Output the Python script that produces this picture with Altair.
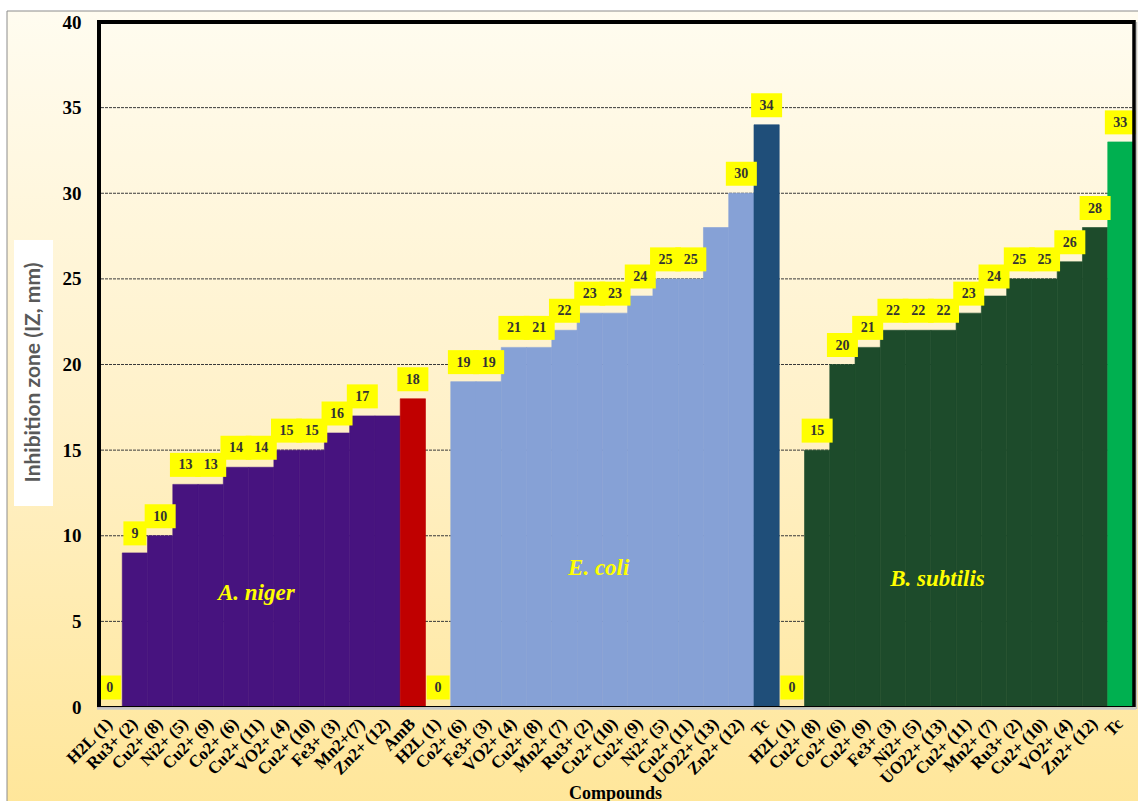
import altair as alt
import pandas as pd

# ---------------- data ----------------
niger_labels = ["H2L (1)", "Ru3+ (2)", "Cu2+ (8)", "Ni2+ (5)", "Cu2+ (9)", "Co2+ (6)",
                "Cu2+ (11)", "VO2+ (4)", "Cu2+ (10)", "Fe3+ (3)", "Mn2+(7)", "Zn2+ (12)", "AmB"]
niger_values = [0, 9, 10, 13, 13, 14, 14, 15, 15, 16, 17, 17, 18]
niger_shown = [1, 1, 1, 1, 1, 1, 1, 1, 1, 1, 1, 0, 1]

coli_labels = ["H2L (1)", "Co2+ (6)", "Fe3+ (3)", "VO2+ (4)", "Cu2+ (8)", "Mn2+ (7)", "Ru3+ (2)",
               "Cu2+ (10)", "Cu2+ (9)", "Ni2+ (5)", "Cu2+ (11)", "UO22+ (13)", "Zn2+ (12)", "Tc"]
coli_values = [0, 19, 19, 21, 21, 22, 23, 23, 24, 25, 25, 28, 30, 34]
coli_shown = [1, 1, 1, 1, 1, 1, 1, 1, 1, 1, 1, 0, 1, 1]

subtilis_labels = ["H2L (1)", "Cu2+ (8)", "Co2+ (6)", "Cu2+ (9)", "Fe3+ (3)", "Ni2+ (5)", "UO22+ (13)",
                   "Cu2+ (11)", "Mn2+ (7)", "Ru3+ (2)", "Cu2+ (10)", "VO2+ (4)", "Zn2+ (12)", "Tc"]
subtilis_values = [0, 15, 20, 21, 22, 22, 22, 23, 24, 25, 25, 26, 28, 33]
subtilis_shown = [1] * 14

group_names = ["A. niger", "E. coli", "B. subtilis"]
group_text_y = [6.65, 8.1, 7.5]
group_text_bar = [6, 6, 6]          # bar (within group) under which the name sits
group_text_dx = [-5, 9, -6]

kind_domain = ["niger", "AmB", "coli", "Tc_coli", "subtilis", "Tc_subtilis"]
kind_colors = ["#47137F", "#C00000", "#86A1D6", "#1F4E79", "#1D4B2B", "#00B050"]

grid_values = [5, 10, 15, 20, 25, 30, 35]

# ---------------- build table ----------------
rows = []
keys_by_group = []
groups = [
    (niger_labels, niger_values, niger_shown, "niger", "AmB"),
    (coli_labels, coli_values, coli_shown, "coli", "Tc_coli"),
    (subtilis_labels, subtilis_values, subtilis_shown, "subtilis", "Tc_subtilis"),
]
idx = 0
for labels, values, shown, kind, ref_kind in groups:
    gkeys = []
    for i, (lab, val, sh) in enumerate(zip(labels, values, shown)):
        key = f"{idx:02d}|{lab}"
        gkeys.append(key)
        rows.append({
            "key": key,
            "value": val,
            "shown": sh,
            "kind": ref_kind if i == len(labels) - 1 else kind,
            "txt": str(val),
        })
        idx += 1
    keys_by_group.append(gkeys)
df = pd.DataFrame(rows)
domain_keys = list(df["key"])

gdf = pd.DataFrame({
    "key": [keys_by_group[g][group_text_bar[g]] for g in range(3)],
    "y": group_text_y,
    "name": group_names,
    "dx": group_text_dx,
})

W, H = 1036, 685

xscale = alt.Scale(domain=domain_keys, paddingInner=0, paddingOuter=0)
yscale = alt.Scale(domain=[0, 40], nice=False)

x_enc = alt.X(
    "key:N", scale=xscale, sort=None,
    axis=alt.Axis(
        title="Compounds", labelExpr="split(datum.label, '|')[1]",
        labelAngle=-45, labelAlign="right", labelBaseline="middle",
        labelFont="Liberation Serif", labelFontSize=17, labelFontWeight="bold",
        labelColor="black", labelPadding=14, ticks=False, domain=False,
        titleFont="Liberation Serif", titleFontSize=18, titleFontWeight="bold",
        titleColor="black", titleY=86, titleBaseline="middle", labelOverlap=False,
        zindex=1,
    ),
)
y_enc = alt.Y(
    "value:Q", scale=yscale,
    axis=alt.Axis(
        title="Inhibition zone (IZ, mm)", values=[0, 5, 10, 15, 20, 25, 30, 35, 40],
        grid=False, ticks=False, domain=False,
        labelFont="Liberation Serif", labelFontSize=19, labelFontWeight="bold",
        labelColor="black", labelPadding=16,
        titleFont="Lato", titleFontSize=21, titleFontWeight="bold", titleColor="#595959",
        titleAngle=-90, titleX=-64, titleY=350, titleAlign="center", titleBaseline="middle",
        zindex=1,
    ),
)

one = pd.DataFrame({"a": [0]})

bg = alt.Chart(one).mark_rect(
    fill={"gradient": "linear", "x1": 0, "y1": 0, "x2": 0, "y2": 1,
          "stops": [{"offset": 0, "color": "#FFFCF0"},
                    {"offset": 0.5, "color": "#FFF1C9"},
                    {"offset": 1, "color": "#FFE699"}]},
    stroke="#8C8C8C", strokeWidth=1,
).encode(x=alt.value(-90), x2=alt.value(1045), y=alt.value(-11), y2=alt.value(790))

title_box = alt.Chart(one).mark_rect(fill="white").encode(
    x=alt.value(-83), x2=alt.value(-44), y=alt.value(218), y2=alt.value(484))

grid = alt.Chart(pd.DataFrame({"g": grid_values})).mark_rule(
    color="#3A3A3A", strokeWidth=1, strokeDash=[3, 1]
).encode(y=alt.Y("g:Q", scale=yscale), x=alt.value(0), x2=alt.value(W))

bars = alt.Chart(df).mark_bar(strokeWidth=0.6).encode(
    x=x_enc, y=y_enc,
    color=alt.Color("kind:N", scale=alt.Scale(domain=kind_domain, range=kind_colors), legend=None),
    stroke=alt.Stroke("kind:N", scale=alt.Scale(domain=kind_domain, range=kind_colors), legend=None),
)

box1 = alt.Chart(df).transform_filter("datum.shown == 1 && datum.value < 10").mark_point(
    shape="M-0.958,-1L0.958,-1L0.958,1L-0.958,1Z", size=576, filled=True,
    fill="#FFFF00", opacity=1, strokeWidth=0, yOffset=-19.5,
).encode(x=alt.X("key:N", scale=xscale), y=alt.Y("value:Q", scale=yscale))

box2 = alt.Chart(df).transform_filter("datum.shown == 1 && datum.value >= 10").mark_point(
    shape="M-1,-0.774L1,-0.774L1,0.774L-1,0.774Z", size=961, filled=True,
    fill="#FFFF00", opacity=1, strokeWidth=0, yOffset=-19.5,
).encode(x=alt.X("key:N", scale=xscale), y=alt.Y("value:Q", scale=yscale))

labels = alt.Chart(df).transform_filter("datum.shown == 1").mark_text(
    font="Liberation Serif", fontSize=14, fontWeight="bold", color="#333333",
    baseline="middle", align="center", dy=-19,
).encode(x=alt.X("key:N", scale=xscale), y=alt.Y("value:Q", scale=yscale), text="txt:N")

gtext = [
    alt.Chart(gdf.iloc[[g]]).mark_text(
        font="Liberation Serif", fontSize=23, fontWeight="bold", fontStyle="italic",
        color="#FFFF00", baseline="middle", align="center", dx=int(group_text_dx[g]),
    ).encode(x=alt.X("key:N", scale=xscale), y=alt.Y("y:Q", scale=yscale), text="name:N")
    for g in range(3)
]

frame_left = alt.Chart(one).mark_rule(color="black", strokeWidth=4).encode(
    x=alt.value(2), y=alt.value(-2), y2=alt.value(H))
frame_top = alt.Chart(one).mark_rule(color="black", strokeWidth=4).encode(
    x=alt.value(0), x2=alt.value(W + 2), y=alt.value(0))
frame_right = alt.Chart(one).mark_rule(color="black", strokeWidth=3.5).encode(
    x=alt.value(W + 1), y=alt.value(-2), y2=alt.value(H))
frame_shadow = alt.Chart(one).mark_rule(color="#BFBFBF", strokeWidth=1.5).encode(
    x=alt.value(W + 3.5), y=alt.value(0), y2=alt.value(H + 2))
bottom_black = alt.Chart(one).mark_rule(color="black", strokeWidth=1).encode(
    x=alt.value(0), x2=alt.value(W), y=alt.value(H - 0.5))
bottom_gray = alt.Chart(one).mark_rule(color="#C8C8C8", strokeWidth=2.5).encode(
    x=alt.value(0), x2=alt.value(W + 3), y=alt.value(H + 1.5))

chart = alt.layer(
    bg, title_box, grid, bars, box1, box2, labels, *gtext,
    bottom_black, bottom_gray, frame_shadow, frame_left, frame_top, frame_right,
).resolve_scale(x="shared", y="shared").properties(
    width=W, height=H,
    autosize=alt.AutoSizeParams(type="none"),
    padding={"left": 97, "top": 22, "right": 5, "bottom": 94},
    background="white",
).configure_view(stroke=None)

chart.save("out.html", embed_options={"renderer": "svg", "actions": False})
